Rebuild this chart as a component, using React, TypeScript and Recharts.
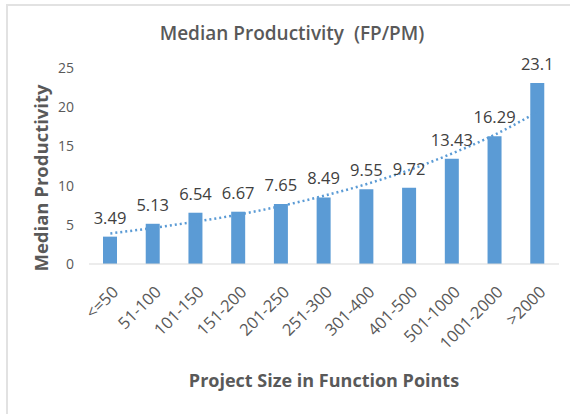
import { ComposedChart, Bar, Line, XAxis, YAxis, LabelList } from 'recharts';

const sizeBands = ['<=50', '51-100', '101-150', '151-200', '201-250', '251-300', '301-400', '401-500', '501-1000', '1001-2000', '>2000'];
const medianProductivity = [3.49, 5.13, 6.54, 6.67, 7.65, 8.49, 9.55, 9.72, 13.43, 16.29, 23.1];
// dotted trend line
const trendValues = [3.9, 4.6, 5.4, 6.3, 7.4, 8.7, 10.2, 12.0, 14.1, 16.5, 19.4];
const yTicks = [0, 5, 10, 15, 20, 25];

const FONT = '"Open Sans", sans-serif';
const GREY = '#595959';
const BLUE = '#5b9bd5';

const chartData = sizeBands.map((band, i) => ({
  band,
  value: medianProductivity[i],
  trend: trendValues[i],
}));

function SlantedTick({ x, y, payload }: any) {
  const tx = x + 5;
  const ty = y + 17;
  return (
    <text
      x={tx}
      y={ty}
      dy="0.35em"
      transform={`rotate(-45 ${tx} ${ty})`}
      textAnchor="end"
      fill={GREY}
      fontSize={16.5}
      fontFamily={FONT}
    >
      {payload.value}
    </text>
  );
}

export default function App() {
  return (
    <div style={{ position: 'absolute', left: 0, top: 0, width: 570, height: 414, background: '#fff', fontFamily: FONT }}>
      <div
        style={{
          position: 'absolute',
          left: 6,
          top: 4,
          width: 580,
          height: 420,
          borderTop: '2px solid #e2e2e2',
          borderLeft: '2px solid #e2e2e2',
        }}
      />
      <div
        style={{
          position: 'absolute',
          left: 0,
          width: 570,
          top: 20,
          textAlign: 'center',
          fontSize: 19,
          fontWeight: 600,
          color: GREY,
          paddingLeft: 14,
          boxSizing: 'border-box',
          whiteSpace: 'pre',
        }}
      >
        {'Median Productivity  (FP/PM)'}
      </div>
      <div
        style={{
          position: 'absolute',
          left: 40,
          top: 178,
          transform: 'translate(-50%, -50%) rotate(-90deg)',
          fontSize: 18.5,
          fontWeight: 700,
          color: GREY,
          whiteSpace: 'nowrap',
        }}
      >
        Median Productivity
      </div>
      <div
        style={{
          position: 'absolute',
          left: 0,
          width: 570,
          top: 368,
          paddingLeft: 78,
          boxSizing: 'border-box',
          textAlign: 'center',
          fontSize: 18,
          fontWeight: 700,
          color: GREY,
        }}
      >
        Project Size in Function Points
      </div>
      <div style={{ position: 'absolute', left: 0, top: 0 }}>
        <ComposedChart
          width={570}
          height={414}
          data={chartData}
          margin={{ top: 68, right: 11, bottom: 40, left: 29 }}
        >
          <XAxis
            dataKey="band"
            height={110}
            interval={0}
            tickLine={false}
            axisLine={{ stroke: '#d9d9d9', strokeWidth: 1 }}
            tick={<SlantedTick />}
          />
          <YAxis
            width={60}
            domain={[0, 25]}
            ticks={yTicks}
            axisLine={false}
            tickLine={false}
            tickSize={0}
            tickMargin={15}
            tick={{ fill: GREY, fontSize: 14, fontFamily: FONT }}
          />
          <Bar dataKey="value" fill={BLUE} barSize={14} isAnimationActive={false}>
            <LabelList
              dataKey="value"
              position="top"
              offset={13}
              fill="#404040"
              fontSize={16.5}
              fontFamily={FONT}
            />
          </Bar>
          <Line
            type="monotone"
            dataKey="trend"
            stroke={BLUE}
            strokeWidth={2.5}
            strokeDasharray="2 3"
            dot={false}
            activeDot={false}
            isAnimationActive={false}
          />
        </ComposedChart>
      </div>
    </div>
  );
}
